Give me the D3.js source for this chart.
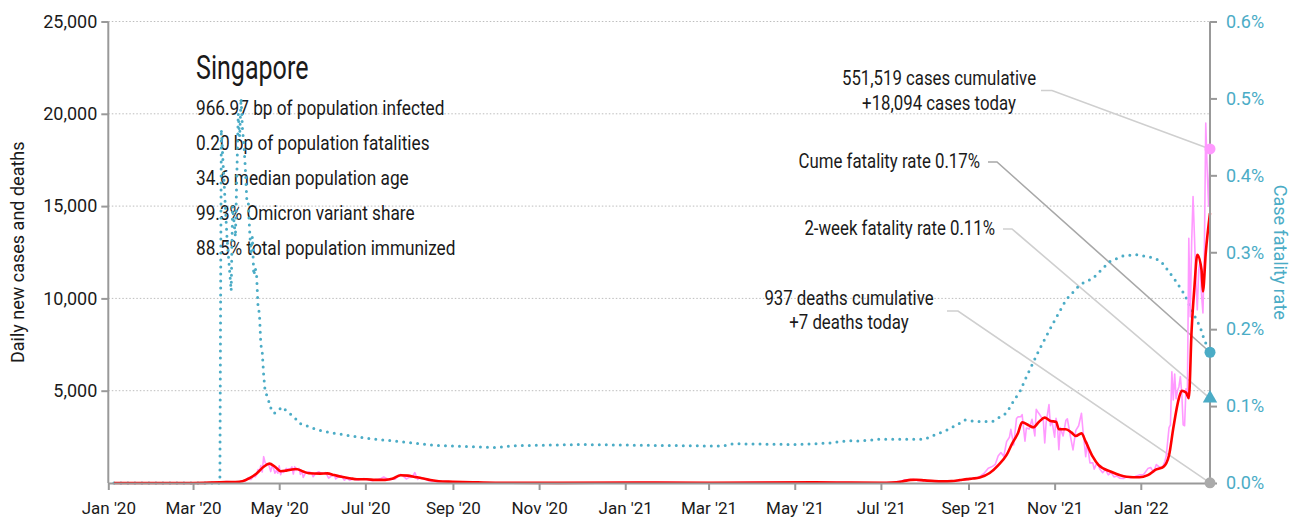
<!DOCTYPE html>
<html>
<head>
<meta charset="utf-8">
<script src="https://cdn.jsdelivr.net/npm/d3@7"></script>
<style>
  html, body { margin: 0; padding: 0; background: #fff; }
  svg { display: block; font-family: Roboto, "Noto Sans", sans-serif; }
</style>
</head>
<body>
<svg id="chart" width="1310" height="522"></svg>
<script>
// ---- Data -------------------------------------------------------------
const dailyDates = [
  "2020-01-05","2020-01-23","2020-02-01","2020-02-05","2020-02-10","2020-02-15","2020-02-20","2020-03-01","2020-03-08","2020-03-15",
  "2020-03-20","2020-03-25","2020-03-31","2020-04-03","2020-04-05","2020-04-07","2020-04-09","2020-04-10","2020-04-11","2020-04-13",
  "2020-04-14","2020-04-15","2020-04-16","2020-04-17","2020-04-18","2020-04-19","2020-04-20","2020-04-21","2020-04-22","2020-04-23",
  "2020-04-24","2020-04-25","2020-04-26","2020-04-27","2020-04-28","2020-04-29","2020-04-30","2020-05-01","2020-05-02","2020-05-03",
  "2020-05-04","2020-05-05","2020-05-06","2020-05-07","2020-05-08","2020-05-09","2020-05-10","2020-05-11","2020-05-12","2020-05-13",
  "2020-05-14","2020-05-15","2020-05-16","2020-05-17","2020-05-18","2020-05-19","2020-05-20","2020-05-22","2020-05-24","2020-05-25",
  "2020-05-27","2020-05-29","2020-05-31","2020-06-02","2020-06-03","2020-06-05","2020-06-07","2020-06-09","2020-06-10","2020-06-12",
  "2020-06-14","2020-06-16","2020-06-18","2020-06-20","2020-06-22","2020-06-24","2020-06-26","2020-06-28","2020-06-30","2020-07-02",
  "2020-07-04","2020-07-06","2020-07-08","2020-07-10","2020-07-12","2020-07-14","2020-07-16","2020-07-18","2020-07-20","2020-07-22",
  "2020-07-24","2020-07-26","2020-07-28","2020-07-30","2020-08-01","2020-08-03","2020-08-05","2020-08-07","2020-08-09","2020-08-11",
  "2020-08-13","2020-08-15","2020-08-17","2020-08-19","2020-08-21","2020-08-24","2020-08-27","2020-08-30","2020-09-03","2020-09-08",
  "2020-09-12","2020-09-18","2020-09-25","2020-10-02","2020-10-10","2020-10-20","2020-11-01","2020-11-15","2020-12-01","2020-12-15",
  "2021-01-01","2021-01-15","2021-02-01","2021-02-15","2021-03-01","2021-03-15","2021-04-01","2021-04-15","2021-05-01","2021-05-15",
  "2021-05-25","2021-06-05","2021-06-20","2021-07-01","2021-07-10","2021-07-15","2021-07-18","2021-07-20","2021-07-22","2021-07-24",
  "2021-07-27","2021-07-30","2021-08-02","2021-08-06","2021-08-10","2021-08-14","2021-08-18","2021-08-22","2021-08-26","2021-08-28",
  "2021-08-31","2021-09-03","2021-09-06","2021-09-09","2021-09-12","2021-09-15","2021-09-18","2021-09-20","2021-09-22","2021-09-24",
  "2021-09-26","2021-09-28","2021-09-30","2021-10-01","2021-10-03","2021-10-05","2021-10-06","2021-10-08","2021-10-09","2021-10-11",
  "2021-10-12","2021-10-14","2021-10-16","2021-10-18","2021-10-19","2021-10-20","2021-10-22","2021-10-24","2021-10-25","2021-10-26",
  "2021-10-28","2021-10-29","2021-10-30","2021-11-01","2021-11-02","2021-11-03","2021-11-04","2021-11-05","2021-11-07","2021-11-09",
  "2021-11-10","2021-11-12","2021-11-14","2021-11-16","2021-11-18","2021-11-20","2021-11-21","2021-11-23","2021-11-24","2021-11-26",
  "2021-11-28","2021-11-29","2021-12-01","2021-12-03","2021-12-05","2021-12-07","2021-12-09","2021-12-11","2021-12-13","2021-12-15",
  "2021-12-17","2021-12-20","2021-12-22","2021-12-25","2021-12-28","2021-12-31","2022-01-03","2022-01-06","2022-01-08","2022-01-10",
  "2022-01-12","2022-01-14","2022-01-16","2022-01-18","2022-01-19","2022-01-21","2022-01-22","2022-01-23","2022-01-24","2022-01-25",
  "2022-01-26","2022-01-27","2022-01-28","2022-01-29","2022-01-30","2022-01-31","2022-02-01","2022-02-02","2022-02-03","2022-02-04",
  "2022-02-05","2022-02-06","2022-02-07","2022-02-08","2022-02-09","2022-02-10","2022-02-11","2022-02-12","2022-02-13","2022-02-14",
  "2022-02-15","2022-02-16","2022-02-17","2022-02-18","2022-02-19"
];
const dailyCases = [
  0,1,2,4,2,5,1,2,12,14,
  40,73,47,65,120,106,287,198,191,386,
  334,447,728,623,942,596,1426,1111,1016,1037,
  897,618,931,799,528,690,528,932,447,657,
  573,632,788,741,768,753,876,486,884,675,
  752,793,465,682,305,451,570,614,548,344,
  533,611,518,544,569,261,383,451,218,347,
  407,151,247,142,218,191,169,213,246,185,
  157,122,183,191,247,322,249,170,212,205,
  354,469,359,220,307,313,560,197,290,242,
  188,120,86,93,50,79,80,50,40,35,
  60,20,15,10,5,8,8,6,10,14,
  20,30,25,10,15,12,20,30,25,50,
  30,20,15,10,40,100,170,180,160,200,
  130,140,110,100,70,70,110,120,130,180,
  180,260,240,350,520,800,900,1010,1460,1650,
  1440,2240,2480,2910,2060,3490,3580,3590,3700,2260,
  2980,2930,3450,2550,3990,3860,3640,3380,2170,3280,
  4250,3110,3400,2480,3500,3100,1800,3000,2550,3400,
  3480,2600,1790,2850,3100,3780,2900,1430,2200,1090,
  1100,750,1100,760,560,740,440,560,330,380,
  260,250,340,280,350,440,460,780,840,570,
  1000,880,800,1150,1470,3000,3150,6030,4500,5900,
  4560,5000,5220,5760,4900,3150,3100,5100,4900,13260,
  9000,13000,15520,13350,11000,9380,11550,12000,10200,9210,
  12500,19500,16970,15000,18094
];

const avgDates = [
  "2020-01-05","2020-02-10","2020-03-01","2020-03-20","2020-03-31","2020-04-05","2020-04-10","2020-04-15","2020-04-20","2020-04-24",
  "2020-04-28","2020-05-02","2020-05-05","2020-05-09","2020-05-13","2020-05-18","2020-05-22","2020-05-30","2020-06-04","2020-06-09",
  "2020-06-14","2020-06-20","2020-06-25","2020-07-02","2020-07-08","2020-07-15","2020-07-20","2020-07-26","2020-07-31","2020-08-05",
  "2020-08-10","2020-08-16","2020-08-22","2020-09-01","2020-09-15","2020-10-01","2020-11-15","2021-01-10","2021-03-01","2021-05-15",
  "2021-06-10","2021-07-05","2021-07-12","2021-07-17","2021-07-22","2021-07-26","2021-08-01","2021-08-08","2021-08-14","2021-08-20",
  "2021-08-26","2021-08-31","2021-09-04","2021-09-09","2021-09-16","2021-09-22","2021-09-28","2021-10-02","2021-10-06","2021-10-09",
  "2021-10-14","2021-10-17","2021-10-21","2021-10-25","2021-10-29","2021-11-02","2021-11-04","2021-11-09","2021-11-13","2021-11-16",
  "2021-11-20","2021-11-23","2021-11-28","2021-12-02","2021-12-11","2021-12-22","2021-12-31","2022-01-06","2022-01-12","2022-01-17",
  "2022-01-21","2022-01-24","2022-01-28","2022-01-30","2022-02-02","2022-02-04","2022-02-06","2022-02-08","2022-02-10","2022-02-13",
  "2022-02-14","2022-02-16","2022-02-19"
];
const avgCases = [
  0,4,2,40,55,100,260,520,880,1050,
  880,640,660,720,760,620,530,510,520,430,
  340,260,200,200,170,170,230,420,400,330,
  260,160,95,70,40,15,8,25,15,35,
  20,15,40,100,170,180,140,100,90,100,
  160,210,240,300,540,960,1520,2150,2690,3290,
  3110,3020,3320,3540,3360,3320,2910,2910,2730,2550,
  2690,2240,1425,980,610,340,310,430,740,870,
  1500,2965,4600,5000,4900,4600,8300,10640,12360,11550,
  10370,12470,14620
];

// Case fatality rate, percent
const cfrDates = [
  "2020-01-05","2020-03-20","2020-03-21","2020-03-23","2020-03-25","2020-03-28","2020-03-29","2020-03-31","2020-04-01","2020-04-02",
  "2020-04-03","2020-04-04","2020-04-05","2020-04-06","2020-04-07","2020-04-08","2020-04-09","2020-04-10","2020-04-11","2020-04-12",
  "2020-04-13","2020-04-14","2020-04-15","2020-04-16","2020-04-17","2020-04-18","2020-04-19","2020-04-20","2020-04-21","2020-04-23",
  "2020-04-26","2020-04-28","2020-04-30","2020-05-03","2020-05-06","2020-05-12","2020-05-15","2020-05-28","2020-06-08","2020-07-02",
  "2020-07-25","2020-08-18","2020-09-20","2020-10-02","2020-10-13","2020-11-30","2021-01-16","2021-03-11","2021-03-18","2021-05-02",
  "2021-05-26","2021-06-07","2021-06-16","2021-06-30","2021-07-19","2021-08-01","2021-08-06","2021-08-17","2021-08-26","2021-08-29",
  "2021-09-07","2021-09-18","2021-09-28","2021-10-04","2021-10-07","2021-10-11","2021-10-21","2021-10-31","2021-11-09","2021-11-19",
  "2021-11-28","2021-12-10","2021-12-19","2021-12-28","2022-01-07","2022-01-15","2022-01-20","2022-01-26","2022-02-01","2022-02-07",
  "2022-02-12","2022-02-15","2022-02-19"
];
const cfrValues = [
  0,0,0.46,0.39,0.32,0.25,0.36,0.32,0.40,0.48,
  0.45,0.50,0.46,0.44,0.41,0.37,0.37,0.33,0.30,0.32,
  0.27,0.28,0.27,0.23,0.22,0.18,0.17,0.14,0.12,0.11,
  0.092,0.091,0.094,0.099,0.094,0.085,0.078,0.069,0.065,0.058,
  0.054,0.049,0.047,0.046,0.0485,0.050,0.049,0.048,0.051,0.050,
  0.052,0.055,0.0546,0.057,0.057,0.057,0.061,0.069,0.078,0.082,
  0.080,0.080,0.091,0.110,0.117,0.134,0.173,0.208,0.238,0.258,
  0.266,0.288,0.295,0.297,0.294,0.289,0.277,0.262,0.245,0.221,
  0.203,0.186,0.17
];

const leftTicks = [5000, 10000, 15000, 20000, 25000];
const rightTicks = [0, 0.1, 0.2, 0.3, 0.4, 0.5, 0.6];

const countryName = "Singapore";
const statLines = [
  "966.97 bp of population infected",
  "0.20 bp of population fatalities",
  "34.6 median population age",
  "99.3% Omicron variant share",
  "88.5% total population immunized"
];

const cumeCases = 551519;
const casesToday = 18094;
const cumeDeaths = 937;
const deathsToday = 7;
const cumeCfr = 0.17;
const twoWeekCfr = 0.11;
const lastDate = "2022-02-19";

// ---- Scales -----------------------------------------------------------
const parse = d3.utcParse("%Y-%m-%d");
const X0 = 108.3, X1 = 1210, YB = 483, YT = 21.5;

const x = d3.scaleUtc().domain([parse("2020-01-01"), parse(lastDate)]).range([X0, X1]);
const yL = d3.scaleLinear().domain([0, 25000]).range([YB, YT]);
const yR = d3.scaleLinear().domain([0, 0.6]).range([YB, YT]);

const svg = d3.select("#chart");
const teal = "#4bacc6";
const axisGray = "#999";
const ink = "#1a1a1a";

// Horizontally condensed text, used for the narrow headline/annotation face
function ctext(parent, px, py, str, size, sx, anchor, fill) {
  const g = parent.append("g").attr("transform", `translate(${px},${py}) scale(${sx},1)`);
  return g.append("text").attr("x", 0).attr("y", 0)
    .attr("text-anchor", anchor || "start")
    .attr("font-size", size).attr("fill", fill || ink).text(str);
}

// ---- Grid -------------------------------------------------------------
svg.append("g").selectAll("line").data(leftTicks).join("line")
  .attr("x1", X0).attr("x2", X1)
  .attr("y1", d => yL(d)).attr("y2", d => yL(d))
  .attr("stroke", "#bdbdbd").attr("stroke-width", 1)
  .attr("stroke-dasharray", "1.5,2");

// ---- Stats block ------------------------------------------------------
ctext(svg, 196, 79, countryName, 33, 0.76, "start");
statLines.forEach((s, i) => ctext(svg, 196, 115 + i * 35, s, 21, 0.82, "start"));

// ---- Annotations ------------------------------------------------------
const fmt = d3.format(",");
const annot = svg.append("g");
ctext(annot, 939, 85, `${fmt(cumeCases)} cases cumulative`, 21, 0.8, "middle");
ctext(annot, 939, 110, `+${fmt(casesToday)} cases today`, 21, 0.8, "middle");
ctext(annot, 980, 168, `Cume fatality rate ${cumeCfr.toFixed(2)}%`, 21, 0.8, "end");
ctext(annot, 995, 235, `2-week fatality rate ${twoWeekCfr.toFixed(2)}%`, 21, 0.8, "end");
ctext(annot, 849, 305, `${fmt(cumeDeaths)} deaths cumulative`, 21, 0.8, "middle");
ctext(annot, 849, 329, `+${fmt(deathsToday)} deaths today`, 21, 0.8, "middle");

const xEnd = x(parse(lastDate));
const leaders = [
  { pts: [[1041, 90.5], [1052, 90.5], [xEnd, yL(casesToday)]], color: "#cfcfcf" },
  { pts: [[988, 162], [997, 162], [xEnd, yR(cumeCfr)]], color: "#a8a8a8" },
  { pts: [[1003, 229], [1012, 229], [xEnd, yR(twoWeekCfr)]], color: "#cfcfcf" },
  { pts: [[947, 311], [958, 311], [xEnd, yL(deathsToday)]], color: "#cfcfcf" }
];
annot.selectAll("path.leader").data(leaders).join("path")
  .attr("class", "leader")
  .attr("d", d => d3.line()(d.pts))
  .attr("fill", "none").attr("stroke", d => d.color).attr("stroke-width", 1.6);

// ---- Series -----------------------------------------------------------
const cfrPts = cfrDates.map((d, i) => [parse(d), cfrValues[i]]);
const dailyPts = dailyDates.map((d, i) => [parse(d), dailyCases[i]]);
const avgPts = avgDates.map((d, i) => [parse(d), avgCases[i]]);

svg.append("path").datum(cfrPts)
  .attr("d", d3.line().x(d => x(d[0])).y(d => yR(d[1])))
  .attr("fill", "none").attr("stroke", teal).attr("stroke-width", 3)
  .attr("stroke-linecap", "round").attr("stroke-dasharray", "0 7");

svg.append("path").datum(dailyPts)
  .attr("d", d3.line().x(d => x(d[0])).y(d => yL(d[1])))
  .attr("fill", "none").attr("stroke", "#ff99ff").attr("stroke-width", 1.6)
  .attr("stroke-linejoin", "round");

svg.append("path").datum(avgPts)
  .attr("d", d3.line().curve(d3.curveMonotoneX).x(d => x(d[0])).y(d => yL(d[1])))
  .attr("fill", "none").attr("stroke", "#ff0000").attr("stroke-width", 2.6)
  .attr("stroke-linejoin", "round");

// ---- Axes -------------------------------------------------------------
function styleAxis(g, color) {
  g.select(".domain").attr("stroke", axisGray).attr("stroke-width", 2);
  g.selectAll(".tick line").attr("stroke", axisGray).attr("stroke-width", 2);
  g.selectAll(".tick text").attr("fill", color).attr("font-family", "Roboto, sans-serif");
}

const xAxis = svg.append("g").attr("transform", `translate(0,${YB})`)
  .call(d3.axisBottom(x).ticks(d3.utcMonth.every(2)).tickFormat(d3.utcFormat("%b '%y"))
    .tickSize(7).tickSizeOuter(0).tickPadding(12));
styleAxis(xAxis, ink);
xAxis.selectAll(".tick text").attr("font-size", 17);

const yAxisL = svg.append("g").attr("transform", `translate(${X0},0)`)
  .call(d3.axisLeft(yL).tickValues(leftTicks).tickFormat(d3.format(","))
    .tickSize(7).tickSizeOuter(0).tickPadding(4));
styleAxis(yAxisL, ink);
yAxisL.select(".domain").attr("d", `M0,${YB}V${YT}`);
yAxisL.selectAll(".tick text").attr("font-size", 18);

const yAxisR = svg.append("g").attr("transform", `translate(${X1},0)`)
  .call(d3.axisRight(yR).tickValues(rightTicks).tickFormat(d => d.toFixed(1) + "%")
    .tickSize(7).tickSizeOuter(0).tickPadding(9));
styleAxis(yAxisR, teal);
yAxisR.select(".domain").attr("d", `M0,${YB}V${YT}`);
yAxisR.selectAll(".tick text").attr("font-size", 18);

// Axis titles
svg.append("text")
  .attr("transform", `translate(24,${(YB + YT) / 2}) rotate(-90)`)
  .attr("text-anchor", "middle").attr("font-size", 18).attr("fill", ink)
  .text("Daily new cases and deaths");
svg.append("text")
  .attr("transform", `translate(1274,${(YB + YT) / 2}) rotate(90)`)
  .attr("text-anchor", "middle").attr("font-size", 18).attr("fill", teal)
  .text("Case fatality rate");

// ---- End markers ------------------------------------------------------
const marks = svg.append("g");
marks.append("circle").attr("cx", xEnd).attr("cy", yL(casesToday)).attr("r", 5.5).attr("fill", "#ff99ff");
marks.append("circle").attr("cx", xEnd).attr("cy", yR(cumeCfr)).attr("r", 5.5).attr("fill", teal);
marks.append("path")
  .attr("transform", `translate(${xEnd},${yR(twoWeekCfr)})`)
  .attr("d", d3.symbol(d3.symbolTriangle, 90)()).attr("fill", teal);
marks.append("circle").attr("cx", xEnd).attr("cy", yL(deathsToday)).attr("r", 5.5).attr("fill", "#aaa");
</script>
</body>
</html>
